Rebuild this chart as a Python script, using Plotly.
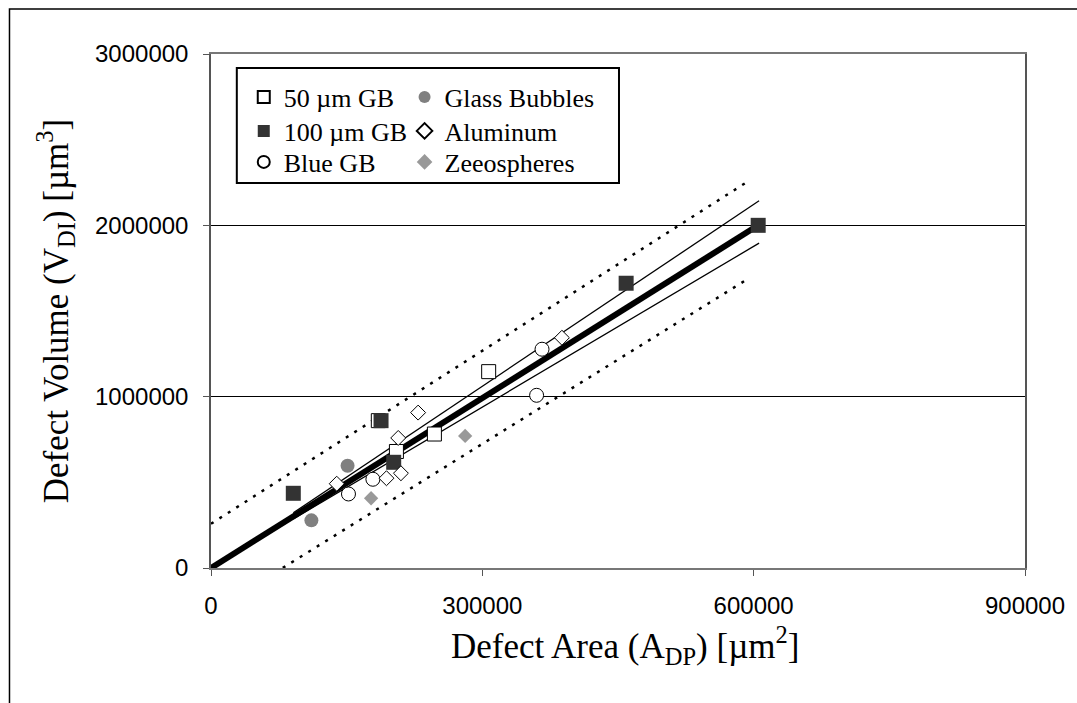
import plotly.graph_objects as go

# ---- data ----
gb50_x = [185000, 205000, 247000, 307000]
gb50_y = [860000, 680000, 782000, 1146000]
gb100_x = [91000, 188000, 202000, 459000, 605000]
gb100_y = [436000, 860000, 617000, 1662000, 2000000]
blue_x = [152000, 179000, 360000, 366000]
blue_y = [432000, 518000, 1008000, 1277000]
glass_x = [111000, 151000]
glass_y = [278000, 597000]
alum_x = [139000, 194000, 207000, 210000, 229000, 388000]
alum_y = [492000, 524000, 759000, 553000, 907000, 1344000]
zeeo_x = [177000, 281000]
zeeo_y = [407000, 771000]

fit_x = [0, 605000]
fit_y = [0, 2000000]
ci_x = [91000, 606000]
ci_upper = [322000, 2143000]
ci_lower = [286000, 1896000]
pi_upper_x = [0, 595000]
pi_upper_y = [258000, 2261000]
pi_lower_x = [70000, 595000]
pi_lower_y = [-30000, 1692000]

x_ticks = [0, 300000, 600000, 900000]
y_ticks = [0, 1000000, 2000000, 3000000]

x_title = "Defect Area (A<sub>DP</sub>) [µm<sup>2</sup>]"
y_title = "Defect Volume (V<sub>DI</sub>) [µm<sup>3</sup>]"

# plot-area geometry in pixels (for paper-coordinate conversions)
L, R, T, B = 211, 1031, 54, 568
PW, PH = R - L, B - T
def px(x): return (x - L) / PW
def py(y): return (B - y) / PH

fig = go.Figure()

dot = dict(color="black", width=2.5, dash="3px,7px")
fig.add_trace(go.Scatter(x=pi_upper_x, y=pi_upper_y, mode="lines", line=dot, showlegend=False, hoverinfo="skip"))
fig.add_trace(go.Scatter(x=pi_lower_x, y=pi_lower_y, mode="lines", line=dot, showlegend=False, hoverinfo="skip"))
fig.add_trace(go.Scatter(x=ci_x, y=ci_upper, mode="lines", line=dict(color="black", width=1.3), showlegend=False, hoverinfo="skip"))
fig.add_trace(go.Scatter(x=ci_x, y=ci_lower, mode="lines", line=dict(color="black", width=1.3), showlegend=False, hoverinfo="skip"))
fig.add_trace(go.Scatter(x=fit_x, y=fit_y, mode="lines", line=dict(color="black", width=6), showlegend=False, hoverinfo="skip"))

def pts(x, y, name, symbol, color, size, legend, line_color="black", lw=1):
    fig.add_trace(go.Scatter(
        x=x, y=y, mode="markers", name=name, legend=legend,
        marker=dict(symbol=symbol, color=color, size=size,
                    line=dict(color=line_color, width=lw)),
    ))

pts(gb50_x, gb50_y, "50 µm GB", "square", "white", 14, "legend")
pts(gb100_x, gb100_y, "100 µm GB", "square", "#333333", 15, "legend2", "#333333", 0)
pts(blue_x, blue_y, "Blue GB", "circle", "white", 14, "legend3")
pts(glass_x, glass_y, "Glass Bubbles", "circle", "#808080", 14, "legend4", "#808080", 0)
pts(alum_x, alum_y, "Aluminum", "diamond", "white", 11.5, "legend5")
pts(zeeo_x, zeeo_y, "Zeeospheres", "diamond", "#999999", 11, "legend6", "#999999", 0)

tick_font = dict(family="Liberation Sans, Arial, sans-serif", size=24, color="black")
title_font = dict(family="Liberation Serif, Times New Roman, serif", size=35, color="black")
leg_font = dict(family="Liberation Serif, Times New Roman, serif", size=26, color="black")

def leg(xpix, ypix):
    return dict(x=px(xpix), xanchor="left", y=py(ypix), yanchor="middle",
                bgcolor="rgba(0,0,0,0)", borderwidth=0, font=leg_font,
                itemsizing="constant")

col1, col2 = 244, 406
rows = [97, 131, 162]

fig.update_layout(
    width=1077, height=703,
    margin=dict(l=L, r=1077 - R, t=T, b=703 - B),
    paper_bgcolor="white", plot_bgcolor="white",
    xaxis=dict(
        range=[0, 900000], tickvals=x_ticks, ticktext=[str(v) for v in x_ticks],
        showgrid=False, zeroline=False,
        showline=True, linecolor="#777777", linewidth=2, mirror=True,
        ticks="outside", ticklen=6, tickcolor="#555555",
        tickfont=tick_font, ticklabelstandoff=9,
    ),
    yaxis=dict(
        range=[0, 3000000], tickvals=y_ticks, ticktext=[str(v) for v in y_ticks],
        showgrid=True, gridcolor="black", gridwidth=1, zeroline=False,
        showline=True, linecolor="#555555", linewidth=1.5, mirror=True,
        ticks="outside", ticklen=6, tickcolor="#555555",
        tickfont=tick_font, ticklabelstandoff=10,
        title=dict(text=y_title, font=title_font, standoff=16),
    ),
    annotations=[
        dict(text=x_title, xref="paper", yref="paper", x=px(628), y=py(645),
             xanchor="center", yanchor="middle", showarrow=False,
             font=dict(family="Liberation Serif, Times New Roman, serif", size=35, color="black")),
    ],
    legend=leg(col1, rows[0]),
    legend2=leg(col1, rows[1]),
    legend3=leg(col1, rows[2]),
    legend4=leg(col2, rows[0]),
    legend5=leg(col2, rows[1]),
    legend6=leg(col2, rows[2]),
    shapes=[
        dict(type="rect", xref="paper", yref="paper",
             x0=px(237), x1=px(622), y0=py(183), y1=py(68),
             line=dict(color="black", width=2), fillcolor="white", layer="below"),
        dict(type="rect", xref="paper", yref="paper",
             x0=px(8), x1=px(1100), y0=py(760), y1=py(9),
             line=dict(color="black", width=1.5), fillcolor="rgba(0,0,0,0)", layer="below"),
    ],
)

fig.write_html("out.html")
